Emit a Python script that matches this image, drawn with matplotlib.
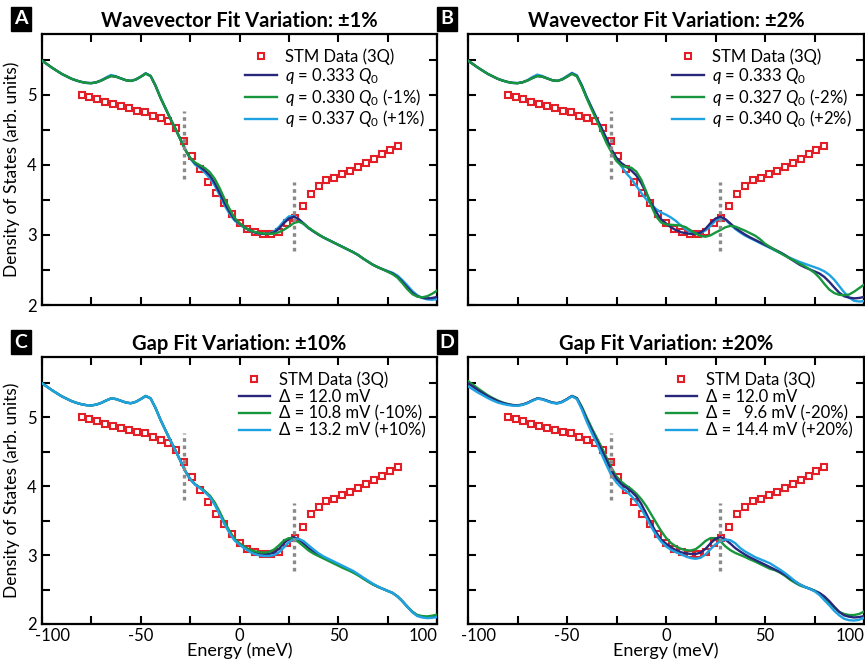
import numpy as np
import matplotlib.pyplot as plt
from matplotlib.patches import Rectangle
from matplotlib.ticker import MultipleLocator
from matplotlib.transforms import ScaledTranslation

plt.rcParams['font.family'] = ['Lato', 'DejaVu Sans']
plt.rcParams['mathtext.fontset'] = 'custom'
plt.rcParams['mathtext.rm'] = 'Lato'
plt.rcParams['mathtext.it'] = 'Lato:italic'

# STM tunnelling spectrum (3Q), every 4 meV
stm_energy = np.arange(-80, 81, 4)
stm_dos = [5.00, 4.976, 4.943, 4.90, 4.876, 4.838, 4.814, 4.776, 4.762, 4.705,
           4.671, 4.629, 4.529, 4.343, 4.133, 3.938, 3.762, 3.60, 3.452, 3.305,
           3.171, 3.09, 3.048, 3.019, 3.019, 3.048, 3.167, 3.243, 3.41, 3.59,
           3.70, 3.78, 3.81, 3.87, 3.914, 3.97, 4.03, 4.086, 4.152, 4.214,
           4.276]

# model DOS, -100 .. 100 meV every 2.5 meV
energy = np.linspace(-100, 100, 81)

# best fit: q = 0.333 Q0, gap 12.0 mV
dos_fit = [5.49, 5.44, 5.39, 5.345, 5.30, 5.265, 5.23, 5.205, 5.185, 5.172,
           5.168, 5.18, 5.205, 5.24, 5.27, 5.26, 5.235, 5.21, 5.20, 5.22,
           5.26, 5.305, 5.27, 5.13, 4.96, 4.81, 4.66, 4.52, 4.37, 4.22,
           4.10, 4.025, 3.975, 3.92, 3.85, 3.74, 3.60, 3.455, 3.33, 3.225,
           3.165, 3.11, 3.07, 3.04, 3.025, 3.015, 3.015, 3.035, 3.09, 3.17,
           3.235, 3.26, 3.225, 3.165, 3.10, 3.05, 3.005, 2.965, 2.93, 2.895,
           2.86, 2.825, 2.79, 2.755, 2.715, 2.665, 2.62, 2.575, 2.54, 2.51,
           2.48, 2.45, 2.40, 2.33, 2.25, 2.175, 2.125, 2.105, 2.095, 2.10,
           2.115]

# q = 0.330 Q0 (-1%)
dos_q_m1 = [5.49, 5.44, 5.39, 5.345, 5.30, 5.265, 5.23, 5.205, 5.185, 5.172,
            5.168, 5.18, 5.205, 5.24, 5.27, 5.26, 5.235, 5.21, 5.20, 5.22,
            5.26, 5.305, 5.27, 5.13, 4.96, 4.81, 4.66, 4.52, 4.37, 4.22,
            4.10, 4.035, 3.995, 3.955, 3.895, 3.80, 3.665, 3.51, 3.37, 3.245,
            3.17, 3.11, 3.07, 3.045, 3.03, 3.02, 3.015, 3.02, 3.04, 3.075,
            3.12, 3.17, 3.19, 3.16, 3.105, 3.055, 3.01, 2.965, 2.93, 2.895,
            2.86, 2.825, 2.79, 2.755, 2.715, 2.665, 2.62, 2.575, 2.54, 2.51,
            2.475, 2.44, 2.39, 2.31, 2.225, 2.155, 2.12, 2.11, 2.125, 2.16,
            2.205]

# q = 0.337 Q0 (+1%)
dos_q_p1 = [5.49, 5.44, 5.39, 5.345, 5.30, 5.265, 5.23, 5.205, 5.185, 5.172,
            5.168, 5.18, 5.21, 5.25, 5.285, 5.265, 5.235, 5.21, 5.20, 5.22,
            5.26, 5.31, 5.27, 5.13, 4.96, 4.81, 4.66, 4.52, 4.37, 4.22,
            4.095, 4.005, 3.955, 3.89, 3.81, 3.705, 3.565, 3.42, 3.30, 3.205,
            3.155, 3.10, 3.065, 3.035, 3.02, 3.015, 3.02, 3.05, 3.115, 3.20,
            3.265, 3.27, 3.22, 3.155, 3.095, 3.05, 3.005, 2.965, 2.93, 2.895,
            2.86, 2.825, 2.79, 2.755, 2.715, 2.665, 2.62, 2.575, 2.54, 2.51,
            2.485, 2.46, 2.42, 2.355, 2.28, 2.20, 2.14, 2.10, 2.08, 2.075,
            2.085]

# q = 0.327 Q0 (-2%)
dos_q_m2 = [5.49, 5.44, 5.39, 5.345, 5.30, 5.265, 5.23, 5.205, 5.185, 5.172,
            5.168, 5.18, 5.205, 5.24, 5.27, 5.26, 5.235, 5.21, 5.20, 5.22,
            5.26, 5.30, 5.265, 5.12, 4.95, 4.79, 4.635, 4.47, 4.31, 4.18,
            4.055, 3.99, 3.97, 3.96, 3.905, 3.79, 3.62, 3.42, 3.265, 3.18,
            3.15, 3.145, 3.14, 3.135, 3.11, 3.065, 3.02, 2.985, 2.975, 2.995,
            3.035, 3.07, 3.11, 3.13, 3.12, 3.09, 3.06, 3.025, 2.99, 2.94,
            2.875, 2.83, 2.785, 2.745, 2.705, 2.665, 2.63, 2.59, 2.555, 2.51,
            2.46, 2.39, 2.30, 2.22, 2.17, 2.145, 2.14, 2.15, 2.19, 2.24,
            2.29]

# q = 0.340 Q0 (+2%)
dos_q_p2 = [5.49, 5.44, 5.39, 5.345, 5.30, 5.265, 5.23, 5.205, 5.185, 5.172,
            5.168, 5.18, 5.21, 5.255, 5.29, 5.27, 5.24, 5.21, 5.20, 5.225,
            5.27, 5.315, 5.28, 5.14, 4.97, 4.82, 4.67, 4.53, 4.37, 4.21,
            4.08, 3.98, 3.88, 3.80, 3.70, 3.60, 3.51, 3.44, 3.37, 3.32,
            3.29, 3.25, 3.20, 3.135, 3.08, 3.045, 3.02, 3.03, 3.065, 3.13,
            3.205, 3.24, 3.22, 3.15, 3.085, 3.035, 2.99, 2.955, 2.92, 2.885,
            2.85, 2.815, 2.78, 2.745, 2.71, 2.675, 2.645, 2.615, 2.59, 2.565,
            2.54, 2.515, 2.48, 2.43, 2.36, 2.27, 2.18, 2.105, 2.06, 2.05,
            2.055]

# gap 10.8 mV (-10%)
dos_gap_m10 = [5.49, 5.44, 5.39, 5.345, 5.30, 5.265, 5.23, 5.205, 5.185, 5.172,
               5.168, 5.18, 5.205, 5.24, 5.27, 5.26, 5.235, 5.21, 5.20, 5.22,
               5.26, 5.305, 5.27, 5.13, 4.96, 4.81, 4.66, 4.52, 4.37, 4.22,
               4.10, 4.025, 3.975, 3.925, 3.86, 3.76, 3.625, 3.475, 3.345, 3.235,
               3.17, 3.12, 3.08, 3.055, 3.04, 3.035, 3.045, 3.08, 3.14, 3.21,
               3.245, 3.235, 3.185, 3.125, 3.065, 3.02, 2.985, 2.95, 2.915, 2.88,
               2.845, 2.81, 2.78, 2.745, 2.705, 2.66, 2.615, 2.575, 2.54, 2.51,
               2.48, 2.45, 2.40, 2.33, 2.25, 2.18, 2.13, 2.115, 2.11, 2.12,
               2.135]

# gap 13.2 mV (+10%)
dos_gap_p10 = [5.49, 5.44, 5.39, 5.345, 5.30, 5.265, 5.23, 5.205, 5.185, 5.172,
               5.168, 5.18, 5.205, 5.24, 5.27, 5.26, 5.235, 5.21, 5.20, 5.22,
               5.26, 5.305, 5.27, 5.13, 4.96, 4.81, 4.66, 4.52, 4.37, 4.22,
               4.10, 4.02, 3.97, 3.91, 3.84, 3.725, 3.585, 3.44, 3.315, 3.21,
               3.15, 3.095, 3.05, 3.015, 2.995, 2.985, 2.985, 3.0, 3.04, 3.11,
               3.185, 3.23, 3.235, 3.20, 3.14, 3.08, 3.025, 2.98, 2.945, 2.91,
               2.875, 2.84, 2.805, 2.77, 2.725, 2.675, 2.63, 2.585, 2.545, 2.51,
               2.48, 2.45, 2.40, 2.33, 2.25, 2.17, 2.115, 2.095, 2.085, 2.09,
               2.10]

# gap 9.6 mV (-20%)
dos_gap_m20 = [5.52, 5.47, 5.415, 5.365, 5.315, 5.275, 5.24, 5.21, 5.19, 5.175,
               5.17, 5.18, 5.205, 5.24, 5.27, 5.26, 5.235, 5.21, 5.20, 5.22,
               5.26, 5.305, 5.275, 5.15, 4.99, 4.84, 4.70, 4.56, 4.41, 4.26,
               4.14, 4.06, 4.005, 3.955, 3.89, 3.81, 3.71, 3.59, 3.47, 3.35,
               3.25, 3.175, 3.125, 3.09, 3.07, 3.065, 3.085, 3.14, 3.205, 3.245,
               3.245, 3.20, 3.125, 3.07, 3.03, 3.0, 2.97, 2.935, 2.905, 2.87,
               2.835, 2.80, 2.78, 2.745, 2.70, 2.645, 2.60, 2.56, 2.535, 2.515,
               2.485, 2.445, 2.38, 2.31, 2.235, 2.175, 2.145, 2.13, 2.13, 2.145,
               2.18]

# gap 14.4 mV (+20%)
dos_gap_p20 = [5.445, 5.40, 5.355, 5.315, 5.275, 5.24, 5.21, 5.19, 5.175, 5.165,
               5.163, 5.175, 5.20, 5.235, 5.265, 5.255, 5.23, 5.205, 5.195, 5.215,
               5.255, 5.30, 5.26, 5.11, 4.93, 4.77, 4.62, 4.46, 4.30, 4.15,
               4.05, 3.975, 3.925, 3.855, 3.77, 3.67, 3.545, 3.41, 3.29, 3.195,
               3.125, 3.075, 3.04, 3.01, 2.98, 2.955, 2.945, 2.96, 3.01, 3.085,
               3.155, 3.20, 3.225, 3.215, 3.17, 3.10, 3.05, 3.01, 2.97, 2.94,
               2.91, 2.88, 2.835, 2.79, 2.74, 2.685, 2.625, 2.575, 2.54, 2.51,
               2.475, 2.42, 2.345, 2.27, 2.19, 2.125, 2.075, 2.055, 2.05, 2.06,
               2.09]

# dotted markers at the gap edges
gap_edges = [-28.0, 27.5]
gap_marks_lo = [3.80, 2.77]
gap_marks_hi = [4.77, 3.75]

xtick_vals = [-100, -50, 0, 50, 100]
xtick_text = ['-100', '-50', '0', '50', '100']

navy = '#27287c'
green = '#17963d'
blue = '#1fa2e2'
red = '#e41e26'

panels = [
    ('A', 'Wavevector Fit Variation: \u00b11%',
     [(dos_fit, navy, r'$q$ = 0.333 $Q_0$'),
      (dos_q_m1, green, r'$q$ = 0.330 $Q_0$ (-1%)'),
      (dos_q_p1, blue, r'$q$ = 0.337 $Q_0$ (+1%)')], [2, 3, 1]),
    ('B', 'Wavevector Fit Variation: \u00b12%',
     [(dos_fit, navy, r'$q$ = 0.333 $Q_0$'),
      (dos_q_m2, green, r'$q$ = 0.327 $Q_0$ (-2%)'),
      (dos_q_p2, blue, r'$q$ = 0.340 $Q_0$ (+2%)')], [2, 3, 1]),
    ('C', 'Gap Fit Variation: \u00b110%',
     [(dos_fit, navy, '\u0394 = 12.0 mV'),
      (dos_gap_m10, green, '\u0394 = 10.8 mV (-10%)'),
      (dos_gap_p10, blue, '\u0394 = 13.2 mV (+10%)')], [1, 2, 3]),
    ('D', 'Gap Fit Variation: \u00b120%',
     [(dos_fit, navy, '\u0394 = 12.0 mV'),
      (dos_gap_m20, green, '\u0394 =   9.6 mV (-20%)'),
      (dos_gap_p20, blue, '\u0394 = 14.4 mV (+20%)')], [2, 1, 3]),
]

W, H = 865, 667
boxes = {'A': (42, 34, 437, 305), 'B': (468, 34, 864, 305),
         'C': (42, 357, 437, 624), 'D': (468, 357, 864, 624)}

fig = plt.figure(figsize=(W / 100, H / 100), dpi=100)

for letter, title, curves, order in panels:
    x0, y0, x1, y1 = boxes[letter]
    ax = fig.add_axes([x0 / W, 1 - y1 / H, (x1 - x0) / W, (y1 - y0) / H])

    ax.plot(stm_energy, stm_dos, 's', ms=3.9, mfc='white', mec=red, mew=1.5,
            zorder=2, label='STM Data (3Q)')
    for (vals, col, lab), z in zip(curves, order):
        ax.plot(energy, vals, color=col, lw=1.7, label=lab, zorder=3 + z * 0.1)
    ax.vlines(gap_edges, gap_marks_lo, gap_marks_hi, colors='#8a8a8a',
              linestyles=(0, (1.1, 1.1)), lw=2.4, zorder=5)

    ax.set_xlim(-100, 100)
    ax.set_ylim(2, 5.87)
    ax.xaxis.set_major_locator(MultipleLocator(50))
    ax.xaxis.set_minor_locator(MultipleLocator(25))
    ax.yaxis.set_major_locator(MultipleLocator(1))
    ax.yaxis.set_minor_locator(MultipleLocator(0.5))
    ax.tick_params(which='both', direction='in', top=True, right=True,
                   length=5.5, width=1.5, labelsize=12)
    ax.tick_params(axis='x', pad=3)
    ax.tick_params(axis='y', pad=4)
    for s in ax.spines.values():
        s.set_linewidth(1.6)

    if letter in 'AB':
        ax.tick_params(axis='x', labelbottom=False)
    else:
        ax.set_xlabel('Energy (meV)', fontsize=13, labelpad=-1)
        ax.set_xticks(xtick_vals, xtick_text)
        # nudge the end labels inwards a little
        labs = ax.get_xticklabels()
        labs[0].set_transform(labs[0].get_transform() +
                              ScaledTranslation(7.5 / 72, 0, fig.dpi_scale_trans))
        labs[-1].set_transform(labs[-1].get_transform() +
                               ScaledTranslation(-10 / 72, 0, fig.dpi_scale_trans))
    if letter in 'BD':
        ax.tick_params(axis='y', labelleft=False)
    else:
        ax.set_ylabel('Density of States (arb. units)', fontsize=12.5, labelpad=5)

    ax.set_title(title, fontsize=14.5, fontweight='bold', pad=5)
    ax.legend(loc='upper right', bbox_to_anchor=(1.0, 0.99), frameon=False,
              fontsize=12, handlelength=1.9, handletextpad=0.5,
              labelspacing=0.05, borderaxespad=0.3, numpoints=1)

    # panel tag in a black box
    bx = x0 - 31
    fig.add_artist(Rectangle((bx / W, 1 - (y0 - 3) / H), 20 / W, 24 / H,
                             transform=fig.transFigure, color='black'))
    fig.text((bx + 10) / W, 1 - (y0 - 15) / H, letter, color='white',
             fontsize=14, fontweight='bold', ha='center', va='center')

fig.savefig('out.png', dpi=100)
